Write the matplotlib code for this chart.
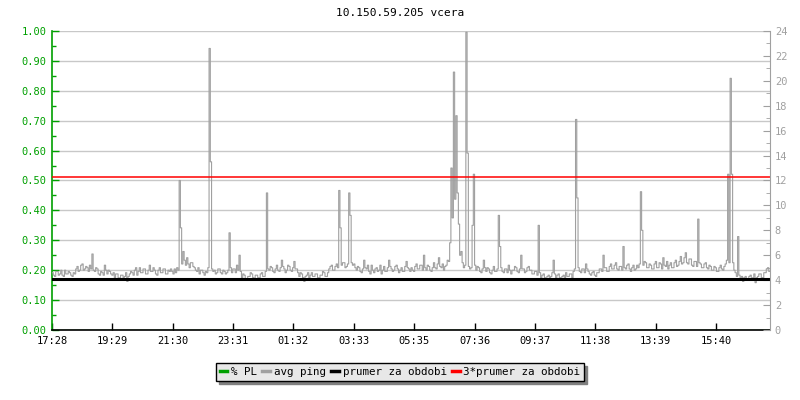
import matplotlib
matplotlib.use("Agg")
import matplotlib.pyplot as plt
from matplotlib.lines import Line2D
from matplotlib.ticker import MultipleLocator
import numpy as np

title = "10.150.59.205 vcera"
start_time = "17:28"
tick_labels = ["17:28", "19:29", "21:30", "23:31", "01:32", "03:33",
               "05:35", "07:36", "09:37", "11:38", "13:39", "15:40"]
step_min = 2.5  # one sample every 2.5 minutes, 24 hours

# avg ping [ms], 48 samples (2 hours) per row
avg_ping = [
    4.6, 4.4, 4.3, 4.7, 4.7, 4.4, 4.5, 4.8, 4.4, 4.3, 4.8, 4.5, 4.5, 4.7, 4.6, 4.4, 4.3, 4.6, 4.5, 4.9, 5.1, 4.7, 4.8, 5.2,
    5.3, 4.8, 4.9, 5.1, 5.0, 4.7, 5.2, 4.9, 6.1, 4.8, 4.7, 5.0, 4.9, 4.5, 4.4, 4.7, 4.6, 4.4, 5.2, 4.8, 4.5, 4.8, 4.7, 4.5,
    4.4, 4.6, 4.2, 4.5, 4.5, 4.2, 4.1, 4.4, 4.4, 4.2, 4.3, 4.6, 3.9, 4.3, 4.5, 4.7, 4.6, 4.4, 4.8, 5.0, 4.4, 4.7, 5.0, 4.6,
    4.6, 4.9, 4.9, 4.5, 4.5, 4.8, 5.2, 4.7, 4.7, 5.0, 4.8, 4.5, 4.4, 4.8, 5.0, 4.6, 4.6, 4.9, 4.9, 4.5, 4.5, 4.8, 4.7, 4.9,
    4.7, 4.5, 4.9, 4.6, 5.0, 4.8, 12.0, 8.2, 5.3, 6.3, 5.6, 5.2, 5.8, 5.3, 5.0, 5.4, 5.4, 5.1, 5.0, 4.8, 4.7, 5.0, 4.5, 4.8,
    4.8, 4.6, 4.4, 4.7, 4.6, 5.0, 22.6, 13.5, 4.9, 4.7, 4.8, 4.5, 4.6, 4.9, 4.9, 4.6, 4.5, 4.8, 4.7, 4.5, 4.6, 4.8, 7.8, 5.0,
    4.6, 4.9, 4.9, 4.6, 5.2, 4.8, 6.0, 4.7, 4.2, 4.5, 4.4, 4.1, 4.0, 4.3, 4.3, 4.6, 4.5, 4.2, 4.1, 4.4, 4.4, 4.2, 4.2, 4.5,
    4.6, 4.3, 4.3, 4.7, 11.0, 4.9, 4.8, 5.1, 5.0, 4.7, 4.6, 4.9, 5.2, 4.8, 4.7, 5.0, 5.6, 5.1, 4.9, 4.6, 4.8, 5.2, 5.1, 4.8,
    4.7, 5.0, 5.5, 4.9, 4.9, 4.6, 4.3, 4.6, 4.5, 4.2, 3.9, 4.3, 4.4, 4.6, 4.2, 4.4, 4.6, 4.3, 4.3, 4.5, 4.5, 4.2, 4.2, 4.4,
    4.4, 4.7, 4.6, 4.3, 4.3, 4.6, 4.9, 5.1, 5.2, 4.8, 4.8, 5.1, 5.3, 5.0, 11.2, 8.2, 5.2, 5.4, 5.4, 5.0, 5.1, 5.3, 11.0, 9.2,
    5.4, 5.2, 5.3, 5.0, 4.8, 5.1, 5.0, 4.7, 4.6, 4.9, 5.6, 5.0, 4.9, 5.2, 4.7, 4.5, 5.2, 4.8, 4.6, 4.9, 5.0, 4.7, 4.8, 5.2,
    4.5, 4.8, 5.1, 4.7, 4.7, 5.0, 5.6, 5.1, 4.9, 4.7, 4.8, 5.1, 5.2, 4.9, 4.6, 4.8, 5.0, 4.7, 4.7, 5.1, 5.5, 5.0, 4.9, 4.7,
    5.0, 4.8, 4.7, 5.1, 5.3, 4.9, 4.9, 5.2, 5.2, 4.8, 6.0, 5.0, 4.8, 5.2, 5.1, 4.8, 4.7, 5.0, 5.4, 5.0, 4.9, 5.3, 5.8, 5.1,
    5.0, 5.3, 4.8, 5.1, 5.2, 5.6, 5.5, 7.0, 13.0, 9.0, 20.7, 10.5, 17.2, 11.0, 8.5, 6.0, 6.3, 5.4, 5.0, 5.2, 23.9, 14.2, 5.1, 4.9,
    5.0, 8.4, 12.5, 5.2, 4.8, 5.1, 5.0, 4.7, 4.6, 4.9, 5.6, 5.0, 4.7, 5.0, 4.9, 4.6, 4.5, 4.8, 5.1, 4.7, 4.7, 4.9, 9.2, 6.7,
    5.0, 4.7, 4.6, 4.9, 4.9, 4.6, 5.2, 4.8, 4.5, 4.8, 4.8, 5.1, 5.0, 4.7, 4.6, 4.9, 6.0, 4.9, 4.9, 4.6, 4.7, 5.0, 5.1, 4.8,
    4.8, 4.5, 4.5, 4.7, 4.7, 4.4, 8.4, 4.6, 4.2, 4.4, 4.5, 4.2, 4.1, 4.3, 4.4, 4.1, 4.3, 4.6, 5.6, 4.5, 4.2, 4.4, 4.5, 4.2,
    4.0, 4.3, 4.4, 4.1, 4.6, 4.3, 4.3, 4.5, 4.5, 4.2, 4.7, 4.9, 16.9, 10.6, 5.0, 4.7, 4.6, 4.9, 4.9, 4.6, 5.3, 4.9, 4.7, 4.5,
    4.4, 4.6, 4.7, 4.4, 4.3, 4.6, 4.6, 4.9, 4.9, 4.7, 6.0, 5.0, 5.0, 4.7, 4.7, 5.1, 5.3, 4.9, 4.9, 5.2, 5.4, 4.9, 4.8, 5.1,
    5.1, 4.8, 6.7, 5.0, 4.9, 5.2, 5.3, 4.9, 4.7, 5.0, 5.2, 4.8, 4.9, 5.2, 5.0, 5.3, 11.1, 8.0, 5.2, 5.5, 5.4, 5.0, 5.0, 5.3,
    5.2, 4.9, 4.9, 5.3, 5.5, 5.0, 5.0, 5.4, 5.3, 4.9, 5.8, 5.2, 5.1, 5.5, 4.9, 5.2, 5.4, 5.0, 5.0, 5.4, 5.6, 5.1, 5.2, 5.5,
    5.9, 5.3, 5.4, 5.8, 6.2, 5.4, 5.3, 5.7, 5.7, 5.2, 5.1, 5.5, 5.5, 5.1, 8.9, 5.4, 5.3, 5.0, 5.0, 5.3, 5.4, 5.0, 4.9, 5.2,
    5.1, 4.8, 4.8, 5.1, 5.0, 4.7, 4.7, 5.0, 5.2, 4.9, 4.8, 5.1, 5.3, 5.6, 12.5, 5.4, 20.2, 12.5, 5.4, 4.8, 4.6, 4.3, 7.5, 4.4,
    4.1, 4.3, 3.9, 4.2, 4.3, 4.0, 4.0, 4.3, 4.4, 4.1, 4.2, 4.5, 3.8, 4.2, 4.3, 4.5, 4.5, 4.2, 4.2, 4.6, 4.6, 4.9, 5.0, 4.7,
]
packet_loss = [0.0] * len(avg_ping)  # % PL, no loss in the period
mean_ping = 4.1  # prumer za obdobi

# colours
GREEN = "#00a000"
GRAY = "#a0a0a0"
RED = "#ff0000"
GRID = "#c8c8c8"
FONT = "DejaVu Sans Mono"

plt.rcParams["font.family"] = FONT
plt.rcParams["font.size"] = 7.5


def minutes_from_start(label):
    h, m = map(int, label.split(":"))
    h0, m0 = map(int, start_time.split(":"))
    return ((h * 60 + m) - (h0 * 60 + m0)) % 1440


t = np.arange(len(avg_ping)) * step_min + step_min / 2

fig = plt.figure(figsize=(8, 4), dpi=100)
ax = fig.add_axes([52 / 800, 70 / 400, 718 / 800, 299 / 400])
ax2 = ax.twinx()

# left axis: % PL 0..1
ax.set_ylim(0, 1)
ax.set_xlim(0, 1440)
ax.yaxis.set_major_locator(MultipleLocator(0.1))
ax.yaxis.set_minor_locator(MultipleLocator(0.05))
ax.yaxis.set_major_formatter(plt.FuncFormatter(lambda v, p: f"{v:.2f}"))
ax.grid(axis="y", which="major", color=GRID, lw=1)
ax.set_axisbelow(True)
ax.tick_params(axis="y", which="both", direction="in", colors=GREEN, labelcolor=GREEN, pad=4)
ax.tick_params(axis="y", which="major", length=5, width=1)
ax.tick_params(axis="y", which="minor", length=3, width=1)
ax.set_xticks([minutes_from_start(l) for l in tick_labels])
ax.set_xticklabels(tick_labels)
ax.tick_params(axis="x", direction="in", length=5, width=1, color="black", pad=4)
for s in ["top", "right"]:
    ax.spines[s].set_visible(False)
ax.spines["left"].set_color(GREEN)
ax.spines["bottom"].set_color("black")
ax.spines["left"].set_linewidth(1.2)
ax.spines["bottom"].set_linewidth(1.2)

# right axis: ping in ms 0..24
ax2.set_ylim(0, 24)
ax2.yaxis.set_major_locator(MultipleLocator(2))
ax2.yaxis.set_minor_locator(MultipleLocator(1))
ax2.tick_params(axis="y", which="both", direction="in", colors=GRAY, labelcolor=GRAY)
ax2.tick_params(axis="y", which="major", length=5)
ax2.tick_params(axis="y", which="minor", length=3)
for s in ["top", "left", "bottom"]:
    ax2.spines[s].set_visible(False)
ax2.spines["right"].set_color(GRAY)

ax2.plot(t, avg_ping, color=GRAY, lw=0.8, drawstyle="steps-mid")
ax2.axhline(mean_ping, color="black", lw=2.2)
ax2.axhline(3 * mean_ping, color=RED, lw=1.1)
ax.plot(t, packet_loss, color=GREEN, lw=1, clip_on=True)

fig.text(0.5, 1 - 13 / 400, title, ha="center", va="center", fontsize=8)

handles = [Line2D([], [], color=GREEN, lw=2.5),
           Line2D([], [], color=GRAY, lw=2.5),
           Line2D([], [], color="black", lw=2.5),
           Line2D([], [], color=RED, lw=2.5)]
names = ["% PL", "avg ping", "prumer za obdobi", "3*prumer za obdobi"]
leg = fig.legend(handles, names, loc="center", bbox_to_anchor=(400 / 800, 1 - 372 / 400),
                 ncol=4, handlelength=0.7, handletextpad=0.35, columnspacing=0.5,
                 fancybox=False, shadow={"color": "#808080", "alpha": 1.0}, framealpha=1,
                 borderpad=0.35, fontsize=7.8)
leg.get_frame().set_facecolor("#e8e8e8")
leg.get_frame().set_edgecolor("black")
leg.get_frame().set_linewidth(1)

fig.savefig("out.png", dpi=100)
